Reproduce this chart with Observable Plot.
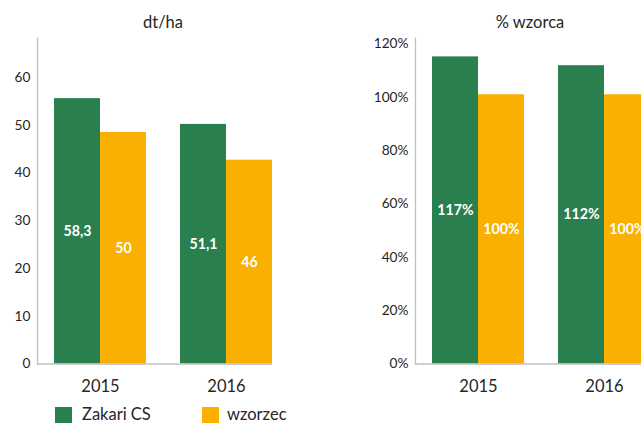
<!DOCTYPE html>
<html>
<head>
<meta charset="utf-8">
<script src="https://cdn.jsdelivr.net/npm/d3@7"></script>
<script src="https://cdn.jsdelivr.net/npm/@observablehq/plot@0.6"></script>
<style>
  html, body { margin: 0; padding: 0; background: #fff; overflow: hidden; }
  #root { position: relative; width: 641px; height: 423px; overflow: hidden; font-family: Lato, "Open Sans", sans-serif; color: #262626; }
  .panel { position: absolute; top: 0; }
  .title { position: absolute; top: 13px; width: 200px; text-align: center; font-size: 16.5px; line-height: 1.2; }
  .lg-sw { position: absolute; top: 407px; width: 17px; height: 16px; }
  .lg-tx { position: absolute; top: 406.2px; font-size: 16.5px; line-height: 1; }
</style>
</head>
<body>
<div id="root"></div>
<script>
// ---- data ----
const years = ["2015", "2016"];
const seriesNames = ["Zakari CS", "wzorzec"];
const seriesColors = ["#2A7F4F", "#F9B000"];

// left panel: dt/ha (bar heights as drawn, labels as printed)
const dtZakari = [55.6, 50.2];
const dtWzorzec = [48.5, 42.7];
const dtZakariLabels = ["58,3", "51,1"];
const dtWzorzecLabels = ["50", "46"];
const dtTicks = [0, 10, 20, 30, 40, 50, 60];

// right panel: % wzorca
const pctZakari = [1.152, 1.119];
const pctWzorzec = [1.010, 1.010];
const pctZakariLabels = ["117%", "112%"];
const pctWzorzecLabels = ["100%", "100%"];
const pctTicks = [0, 0.2, 0.4, 0.6, 0.8, 1.0, 1.2];

const titles = ["dt/ha", "% wzorca"];

// ---- drawing ----
const axisGray = "#BFBFBF";
const textColor = "#262626";

function panel({ width, marginLeft, marginRight, yMax, ticks, tickFormat, a, b, aLabels, bLabels }) {
  return Plot.plot({
    width,
    height: 400,
    marginTop: 38,
    marginBottom: 36.5,
    marginLeft,
    marginRight,
    style: { fontFamily: "Lato, 'Open Sans', sans-serif", color: textColor, background: "transparent", overflow: "hidden" },
    x: { type: "band", domain: years, range: [marginLeft, marginLeft + 252], paddingInner: 0.27, paddingOuter: 0.135 },
    y: { domain: [0, yMax] },
    marks: [
      Plot.barY(years, { x: d => d, y: (d, i) => a[i], fill: seriesColors[0], insetLeft: 0, insetRight: 46 }),
      Plot.barY(years, { x: d => d, y: (d, i) => b[i], fill: seriesColors[1], insetLeft: 46, insetRight: 0 }),
      Plot.text(years, { x: d => d, y: (d, i) => a[i] / 2, text: (d, i) => aLabels[i], dx: -23, fill: "white", fontWeight: "bold", fontSize: 14.2 }),
      Plot.text(years, { x: d => d, y: (d, i) => b[i] / 2, text: (d, i) => bLabels[i], dx: 23, fill: "white", fontWeight: "bold", fontSize: 14.2 }),
      Plot.frame({ anchor: "left", stroke: axisGray, strokeWidth: 1.3 }),
      Plot.ruleY([0], { stroke: axisGray, strokeWidth: 1.5 }),
      Plot.axisY({ ticks, tickFormat, tickSize: 0, tickPadding: 7, fontSize: 13.7, label: null, fill: textColor }),
      Plot.axisX({ tickSize: 0, tickPadding: 16.5, fontSize: 16.5, label: null, fill: textColor })
    ]
  });
}

const root = document.getElementById("root");

const left = panel({
  width: 320, marginLeft: 37, marginRight: 48, yMax: 68.2, ticks: dtTicks, tickFormat: d => String(d),
  a: dtZakari, b: dtWzorzec, aLabels: dtZakariLabels, bLabels: dtWzorzecLabels
});
const lw = document.createElement("div");
lw.className = "panel"; lw.style.left = "0px";
lw.appendChild(left);
root.appendChild(lw);

const right = panel({
  width: 301, marginLeft: 75, marginRight: 0, yMax: 1.221, ticks: pctTicks, tickFormat: d3.format(".0%"),
  a: pctZakari, b: pctWzorzec, aLabels: pctZakariLabels, bLabels: pctWzorzecLabels
});
const rw = document.createElement("div");
rw.className = "panel"; rw.style.left = "340px";
rw.appendChild(right);
root.appendChild(rw);

// titles
const titleCenters = [163, 530];
titles.forEach((t, i) => {
  const d = document.createElement("div");
  d.className = "title";
  d.style.left = (titleCenters[i] - 100) + "px";
  d.textContent = t;
  root.appendChild(d);
});

// legend
const legendSwatchX = [55, 202];
const legendTextX = [82, 227];
seriesNames.forEach((name, i) => {
  const sw = document.createElement("div");
  sw.className = "lg-sw";
  sw.style.left = legendSwatchX[i] + "px";
  sw.style.background = seriesColors[i];
  root.appendChild(sw);
  const tx = document.createElement("div");
  tx.className = "lg-tx";
  tx.style.left = legendTextX[i] + "px";
  tx.textContent = name;
  root.appendChild(tx);
});
</script>
</body>
</html>
